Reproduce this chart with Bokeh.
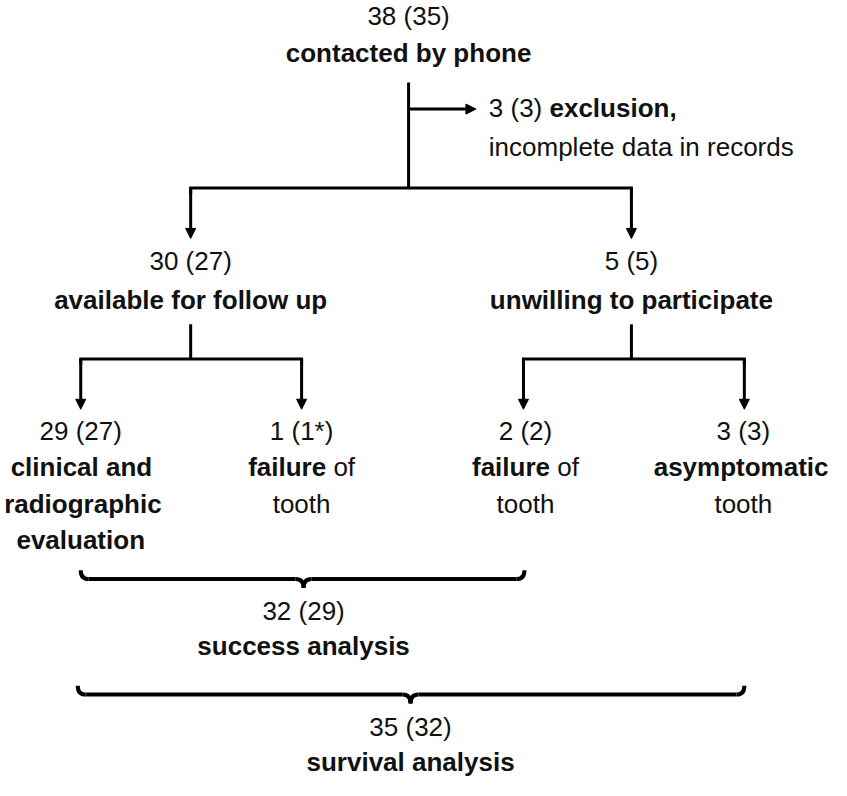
from bokeh.plotting import figure
from bokeh.models import Range1d, Arrow, NormalHead, ColumnDataSource
from bokeh.embed import file_html
from bokeh.resources import INLINE
from bokeh.core.properties import value

# ---------------- data (texts and counts) ----------------
root_count = "38 (35)"
root_label = "contacted by phone"
excl_count = "3 (3)"
excl_label = "exclusion,"
excl_note = "incomplete data in records"
level2_counts = ["30 (27)", "5 (5)"]
level2_labels = ["available for follow up", "unwilling to participate"]
level3_counts = ["29 (27)", "1 (1*)", "2 (2)", "3 (3)"]
# each line: (bold part, normal part)
level3_lines = [
    [("clinical and", ""), ("radiographic", ""), ("evaluation", "")],
    [("failure", "of"), ("", "tooth")],
    [("failure", "of"), ("", "tooth")],
    [("asymptomatic", ""), ("", "tooth")],
]
summary_counts = ["32 (29)", "35 (32)"]
summary_labels = ["success analysis", "survival analysis"]

# ---------------- layout ----------------
W, H = 831, 780
FONT = "Liberation Sans"
FS = 26
LW = 3
BRACE_LW = 4
X_MIN, X_MAX = 6, 845
Y_TOP, Y_BOT = 9, 799
SX = W / (X_MAX - X_MIN)          # pixels per layout unit (x)
SY = H / (Y_BOT - Y_TOP)          # pixels per layout unit (y)
TEXT_DY = 10 / SY                 # renderer draws text this much below the given baseline
root_x = 418
level2_x = [198, 643]
level3_x = [87, 310, 536, 756]
level3_arrow_x = [87, 310, 534, 757]
excl_x = 499
summary_x = [312, 420]
brace_span = [(87, 535), (84, 757)]
brace_y = [595, 712]

root_base = [35, 72]
excl_base = [128, 167]
level2_base = [283, 322]
level3_base = [455, 492, 529, 566]
summary_base = [[637, 673], [755, 790]]

trunk_top, fork1_y, arrow1_tip = 92, 199, 250
excl_y, excl_tip = 119, 486
stem_top, fork2_y, arrow2_tip = 337, 372, 423

# Arial / Liberation Sans advance widths (em)
NORMAL_W = {'3': .556, '2': .556, ' ': .278, '(': .333, ')': .333, 'o': .556,
            'f': .278, 't': .278, 'h': .556}
BOLD_W = {'f': .333, 'a': .556, 'i': .278, 'l': .278, 'u': .611, 'r': .389,
          'e': .556, 's': .556, 'y': .556, 'm': .889, 'p': .611, 'o': .611,
          'c': .556, 't': .333, ' ': .278, ',': .278, 'n': .611, 'x': .556}


def tw(s, bold=False):
    """text width in layout units"""
    tab = BOLD_W if bold else NORMAL_W
    return sum(tab.get(ch, .556) for ch in s) * FS / SX


p = figure(width=W, height=H, output_backend="svg", toolbar_location=None,
           x_range=Range1d(X_MIN, X_MAX), y_range=Range1d(Y_BOT, Y_TOP),
           min_border=0, outline_line_color=None)
p.axis.visible = False
p.xgrid.visible = False
p.ygrid.visible = False
p.background_fill_color = "white"
p.border_fill_color = "white"

texts = {"cn": ([], [], []), "cb": ([], [], []), "ln": ([], [], []), "lb": ([], [], [])}


def add(kind, x, y, t):
    texts[kind][0].append(x)
    texts[kind][1].append(y - TEXT_DY)
    texts[kind][2].append(t)


# root
add("cn", root_x, root_base[0], root_count)
add("cb", root_x, root_base[1], root_label)
# exclusion
add("ln", excl_x, excl_base[0], excl_count)
add("lb", excl_x + tw(excl_count) + tw(" "), excl_base[0], excl_label)
add("ln", excl_x, excl_base[1], excl_note)
# level 2
for x, c, l in zip(level2_x, level2_counts, level2_labels):
    add("cn", x, level2_base[0], c)
    add("cb", x, level2_base[1], l)
# level 3
for x, c, lines in zip(level3_x, level3_counts, level3_lines):
    add("cn", x, level3_base[0], c)
    for (b, n), y in zip(lines, level3_base[1:]):
        if b and n:
            total = tw(b, True) + tw(" ") + tw(n)
            start = x - total / 2
            add("lb", start, y, b)
            add("ln", start + tw(b, True) + tw(" "), y, n)
        elif b:
            w = tw(b, True)
            start = min(x - w / 2, X_MAX - w - 3 / SX)
            add("lb", start, y, b)
        else:
            add("cn", x, y, n)
# summaries
for x, c, l, ys in zip(summary_x, summary_counts, summary_labels, summary_base):
    add("cn", x, ys[0], c)
    add("cb", x, ys[1], l)

for kind, (xs, ys, ts) in texts.items():
    src = ColumnDataSource(dict(x=xs, y=ys, text=ts))
    p.text(x="x", y="y", text="text", source=src,
           text_font=value(FONT), text_font_size=f"{FS}px",
           text_font_style="bold" if kind[1] == "b" else "normal",
           text_align="center" if kind[0] == "c" else "left",
           text_baseline="alphabetic", text_color="#111111")

# connector lines
paths_x = [
    [root_x, root_x],
    [level2_x[0], level2_x[0], level2_x[1], level2_x[1]],
    [level2_x[0], level2_x[0]],
    [level2_x[1], level2_x[1]],
    [level3_arrow_x[0], level3_arrow_x[0], level3_arrow_x[1], level3_arrow_x[1]],
    [level3_arrow_x[2], level3_arrow_x[2], level3_arrow_x[3], level3_arrow_x[3]],
]
paths_y = [
    [trunk_top, fork1_y],
    [fork1_y + 6, fork1_y, fork1_y, fork1_y + 6],
    [stem_top, fork2_y],
    [stem_top, fork2_y],
    [fork2_y + 6, fork2_y, fork2_y, fork2_y + 6],
    [fork2_y + 6, fork2_y, fork2_y, fork2_y + 6],
]
p.multi_line(xs=paths_x, ys=paths_y, line_color="black", line_width=LW,
             line_join="miter")

arrows = [(root_x, excl_y, excl_tip, excl_y)]
for x in level2_x:
    arrows.append((x, fork1_y, x, arrow1_tip))
for x in level3_arrow_x:
    arrows.append((x, fork2_y, x, arrow2_tip))
for x0, y0, x1, y1 in arrows:
    p.add_layout(Arrow(x_start=x0, y_start=y0, x_end=x1, y_end=y1,
                       line_width=LW, line_color="black",
                       end=NormalHead(size=10, fill_color="black",
                                      line_color="black", line_width=1)))

# curly braces
qx0, qy0, qx1, qy1, qcx, qcy = [], [], [], [], [], []
sx0, sy0, sx1, sy1 = [], [], [], []
h, r = 9, 8
for (x0, x1), xc, y in zip(brace_span, summary_x, brace_y):
    qx0.append(x0); qy0.append(y - h); qx1.append(x0 + r); qy1.append(y); qcx.append(x0); qcy.append(y)
    qx0.append(x1); qy0.append(y - h); qx1.append(x1 - r); qy1.append(y); qcx.append(x1); qcy.append(y)
    qx0.append(xc - r); qy0.append(y); qx1.append(xc); qy1.append(y + h); qcx.append(xc); qcy.append(y)
    qx0.append(xc + r); qy0.append(y); qx1.append(xc); qy1.append(y + h); qcx.append(xc); qcy.append(y)
    sx0 += [x0 + r, xc + r]; sx1 += [xc - r, x1 - r]; sy0 += [y, y]; sy1 += [y, y]

p.quadratic(x0=qx0, y0=qy0, x1=qx1, y1=qy1, cx=qcx, cy=qcy,
            line_color="black", line_width=BRACE_LW)
p.segment(x0=sx0, y0=sy0, x1=sx1, y1=sy1, line_color="black",
          line_width=BRACE_LW)

open("out.html", "w").write(file_html(p, INLINE))
